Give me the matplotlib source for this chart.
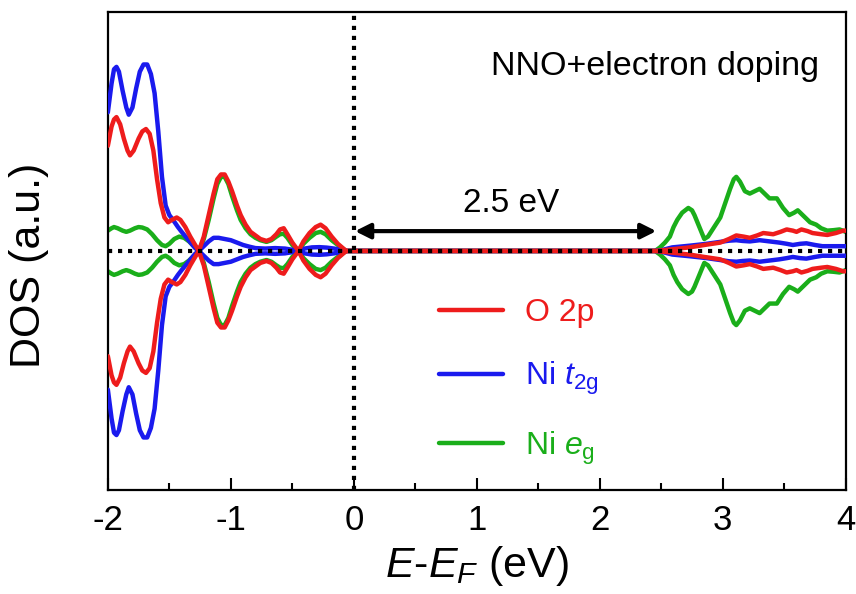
import numpy as np
import matplotlib.pyplot as plt
from matplotlib.ticker import MultipleLocator

plt.rcParams['font.family'] = ['Liberation Sans', 'DejaVu Sans']
plt.rcParams['mathtext.fontset'] = 'custom'
plt.rcParams['mathtext.rm'] = 'Liberation Sans'
plt.rcParams['mathtext.it'] = 'Liberation Sans:italic'
plt.rcParams['axes.unicode_minus'] = False

# 读图得到的 DOS 值（自旋向上；自旋向下取镜像）
e_o2p = [-2.00, -1.97, -1.95, -1.93, -1.90, -1.87, -1.84, -1.82, -1.79, -1.75, -1.72, -1.69,
         -1.66, -1.63, -1.60, -1.57, -1.54, -1.51, -1.48, -1.44, -1.41, -1.37, -1.33, -1.29,
         -1.26, -1.22, -1.18, -1.14, -1.11, -1.08, -1.05, -1.02, -0.99, -0.95, -0.92, -0.88,
         -0.84, -0.80, -0.76, -0.71, -0.67, -0.63, -0.60, -0.57, -0.54, -0.50, -0.45, -0.41,
         -0.36, -0.31, -0.27, -0.23, -0.18, -0.13, -0.08, -0.06, 0.00, 2.45, 2.55, 2.73,
         2.85, 2.98, 3.05, 3.11, 3.17, 3.22, 3.28, 3.33, 3.41, 3.47, 3.52, 3.57,
         3.60, 3.64, 3.69, 3.73, 3.80, 3.85, 3.92, 3.98, 4.00]
dos_o2p = [0.44, 0.52, 0.55, 0.56, 0.53, 0.47, 0.42, 0.40, 0.42, 0.47, 0.50, 0.51,
           0.49, 0.42, 0.30, 0.20, 0.14, 0.12, 0.13, 0.14, 0.13, 0.10, 0.06, 0.025,
           0.00, 0.06, 0.15, 0.24, 0.30, 0.32, 0.32, 0.29, 0.25, 0.19, 0.15, 0.11,
           0.08, 0.065, 0.05, 0.042, 0.05, 0.07, 0.09, 0.095, 0.07, 0.035, 0.00, 0.04,
           0.075, 0.10, 0.11, 0.095, 0.06, 0.03, 0.008, 0.00, 0.00, 0.00, 0.005, 0.015,
           0.025, 0.035, 0.05, 0.065, 0.06, 0.055, 0.065, 0.075, 0.07, 0.08, 0.09, 0.085,
           0.08, 0.09, 0.083, 0.075, 0.07, 0.067, 0.075, 0.085, 0.085]

e_t2g = [-2.00, -1.97, -1.95, -1.93, -1.91, -1.88, -1.85, -1.83, -1.80, -1.77, -1.74, -1.71,
         -1.68, -1.65, -1.62, -1.59, -1.56, -1.53, -1.50, -1.47, -1.43, -1.40, -1.36, -1.32,
         -1.29, -1.26, -1.22, -1.18, -1.14, -1.10, -1.05, -1.00, -0.95, -0.90, -0.85, -0.80,
         -0.72, -0.64, -0.56, -0.50, -0.45, -0.40, -0.34, -0.28, -0.22, -0.16, -0.10, -0.06,
         0.00, 2.45, 2.50, 2.59, 2.73, 2.87, 2.98, 3.05, 3.11, 3.16, 3.22, 3.30,
         3.38, 3.46, 3.52, 3.57, 3.63, 3.68, 3.75, 3.81, 3.90, 4.00]
dos_t2g = [0.58, 0.70, 0.76, 0.77, 0.75, 0.67, 0.60, 0.57, 0.60, 0.68, 0.75, 0.78,
           0.78, 0.74, 0.66, 0.50, 0.31, 0.19, 0.15, 0.13, 0.10, 0.08, 0.055, 0.03,
           0.012, 0.00, 0.02, 0.04, 0.055, 0.055, 0.05, 0.045, 0.035, 0.025, 0.018, 0.012,
           0.01, 0.012, 0.01, 0.005, 0.00, 0.01, 0.015, 0.016, 0.014, 0.01, 0.004, 0.00,
           0.00, 0.00, 0.003, 0.015, 0.022, 0.03, 0.038, 0.043, 0.045, 0.042, 0.04, 0.045,
           0.04, 0.035, 0.03, 0.025, 0.03, 0.032, 0.025, 0.02, 0.02, 0.02]

e_eg = [-2.00, -1.97, -1.95, -1.92, -1.88, -1.85, -1.82, -1.78, -1.75, -1.72, -1.68, -1.64,
        -1.60, -1.56, -1.53, -1.50, -1.46, -1.42, -1.38, -1.34, -1.30, -1.26, -1.22, -1.18,
        -1.14, -1.11, -1.08, -1.05, -1.02, -0.99, -0.95, -0.92, -0.88, -0.84, -0.80, -0.76,
        -0.71, -0.67, -0.63, -0.60, -0.57, -0.54, -0.50, -0.45, -0.41, -0.36, -0.31, -0.27,
        -0.23, -0.18, -0.13, -0.08, -0.06, 0.00, 2.45, 2.49, 2.53, 2.57, 2.60, 2.63,
        2.67, 2.72, 2.75, 2.77, 2.81, 2.85, 2.88, 2.93, 2.98, 3.02, 3.06, 3.09,
        3.11, 3.14, 3.18, 3.22, 3.26, 3.30, 3.34, 3.38, 3.44, 3.49, 3.54, 3.58,
        3.61, 3.65, 3.71, 3.76, 3.80, 3.85, 3.90, 3.95, 4.00]
dos_eg = [0.085, 0.095, 0.10, 0.095, 0.085, 0.08, 0.085, 0.095, 0.10, 0.098, 0.09, 0.07,
          0.045, 0.025, 0.02, 0.03, 0.05, 0.06, 0.055, 0.04, 0.02, 0.00, 0.05, 0.13,
          0.22, 0.28, 0.31, 0.31, 0.28, 0.23, 0.17, 0.13, 0.095, 0.07, 0.055, 0.045,
          0.038, 0.045, 0.06, 0.07, 0.072, 0.055, 0.025, 0.00, 0.03, 0.055, 0.075, 0.08,
          0.07, 0.045, 0.025, 0.006, 0.00, 0.00, 0.00, 0.015, 0.035, 0.06, 0.10, 0.13,
          0.16, 0.18, 0.17, 0.15, 0.10, 0.05, 0.06, 0.10, 0.14, 0.20, 0.26, 0.30,
          0.31, 0.29, 0.25, 0.24, 0.25, 0.26, 0.24, 0.22, 0.22, 0.18, 0.15, 0.16,
          0.17, 0.15, 0.12, 0.11, 0.095, 0.085, 0.087, 0.09, 0.08]

gap = 2.5
c_red, c_blue, c_green = '#ee1c1c', '#1a1aee', '#1aae1a'
lkw = dict(lw=3.2, solid_joinstyle='round', solid_capstyle='round')

fig = plt.figure(figsize=(8.56, 5.94), dpi=100)
ax = fig.add_axes([0.126, 0.175, 0.862, 0.805])

ax.plot(e_eg, dos_eg, color=c_green, label=r'Ni $\it{e}_{\rm g}$', zorder=2, **lkw)
ax.plot(e_eg, -np.array(dos_eg), color=c_green, zorder=2, **lkw)
ax.plot(e_t2g, dos_t2g, color=c_blue, label=r'Ni $\it{t}_{\rm 2g}$', zorder=3, **lkw)
ax.plot(e_t2g, -np.array(dos_t2g), color=c_blue, zorder=3, **lkw)
ax.plot(e_o2p, dos_o2p, color=c_red, label='O 2p', zorder=4, **lkw)
ax.plot(e_o2p, -np.array(dos_o2p), color=c_red, zorder=4, **lkw)

ax.axhline(0, color='black', lw=3, ls=(0, (1, 1.4)), zorder=5)
ax.axvline(0, color='black', lw=3, ls=(0, (1, 1.4)), zorder=5)

ax.annotate('', xy=(0.01, 0.083), xytext=(gap - 0.04, 0.083),
            arrowprops=dict(arrowstyle='<|-|>,head_length=0.9,head_width=0.45',
                            color='black', lw=3, shrinkA=0, shrinkB=0))
ax.text(1.28, 0.2, '%.1f eV' % gap, ha='center', va='center', fontsize=24)
ax.text(3.78, 0.77, 'NNO+electron doping', ha='right', va='center', fontsize=24.5)

ax.set_xlim(-2, 4)
ax.set_ylim(-1, 1)
ax.xaxis.set_major_locator(MultipleLocator(1))
ax.xaxis.set_minor_locator(MultipleLocator(0.5))
ax.set_yticks([])
ax.tick_params(axis='x', which='major', direction='in', length=9, width=1.5,
               labelsize=25, pad=10)
ax.tick_params(axis='x', which='minor', direction='in', length=5, width=1.5)
for s in ax.spines.values():
    s.set_linewidth(1.6)

ax.set_xlabel(r'$\it{E}$-$\it{E}_{\it{F}}$ (eV)', fontsize=31, labelpad=5)
ax.set_ylabel('DOS (a.u.)', fontsize=31)
ax.yaxis.set_label_coords(-0.08, 0.47)

h, l = ax.get_legend_handles_labels()
ax.legend(h[::-1], l[::-1], loc='center left', bbox_to_anchor=(0.41, 0.225),
          frameon=False, fontsize=23, handlelength=2.0, handletextpad=0.7,
          labelspacing=1.0, labelcolor='linecolor')

fig.savefig('out.png', dpi=100)
